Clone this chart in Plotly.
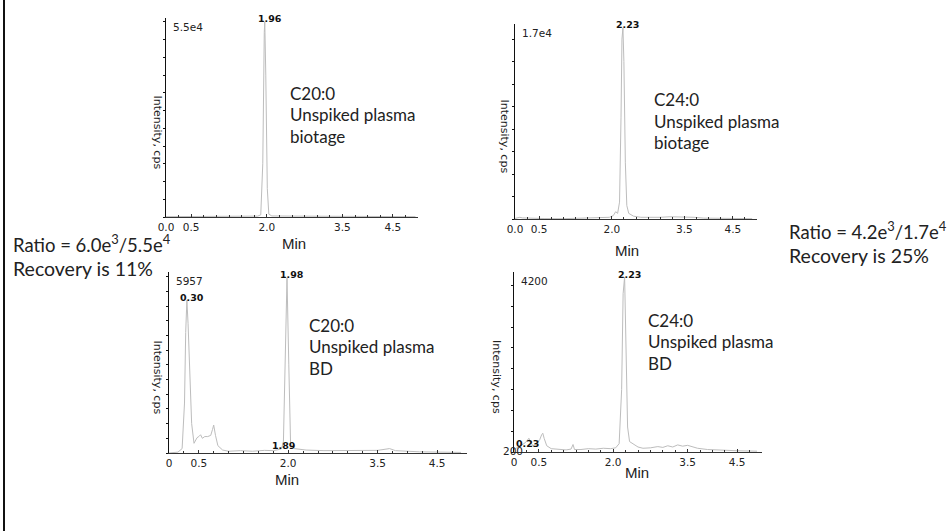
import plotly.graph_objects as go

W, H = 952, 531

# ---------------- data ----------------
# Panel A: C20:0 unspiked plasma, biotage (max 5.5e4)
t_a = [0.0, 0.3, 0.7, 1.2, 1.6, 1.82, 1.88, 1.92, 1.95, 1.96, 1.98, 2.01, 2.04, 2.1, 2.5, 3.0, 3.5, 4.0, 4.5, 4.95]
i_a = [100, 150, 120, 150, 200, 250, 600, 15000, 52000, 55000, 40000, 8000, 800, 300, 250, 200, 180, 150, 120, 100]

# Panel B: C24:0 unspiked plasma, biotage (max 1.7e4)
t_b = [0.0, 0.1, 0.15, 0.3, 0.6, 1.0, 1.5, 1.8, 1.95, 2.03, 2.08, 2.12, 2.16, 2.19, 2.21, 2.23, 2.25, 2.28, 2.31,
       2.35, 2.45, 2.6, 2.8, 3.0, 3.2, 3.4, 3.6, 3.7, 3.9, 4.2, 4.6, 4.9]
i_b = [50, 150, 100, 60, 40, 30, 60, 80, 150, 300, 650, 500, 1500, 9000, 16000, 17000, 14000, 5000, 1200,
       500, 250, 150, 120, 150, 200, 180, 220, 150, 80, 60, 40, 30]

# Panel C: C20:0 unspiked plasma, BD (max 5957)
t_c = [0.0, 0.15, 0.22, 0.26, 0.28, 0.30, 0.32, 0.35, 0.38, 0.42, 0.45, 0.47, 0.50, 0.53, 0.56, 0.60, 0.65,
       0.70, 0.73, 0.75, 0.78, 0.82, 0.9, 1.0, 1.2, 1.4, 1.6, 1.75, 1.85, 1.89, 1.92, 1.95, 1.98, 2.01, 2.04,
       2.1, 2.3, 2.6, 3.0, 3.3, 3.5, 3.7, 3.8, 4.2, 4.6, 4.9]
i_c = [0, 30, 150, 1700, 4100, 5200, 4400, 2300, 1000, 330, 450, 520, 560, 620, 500, 560, 560,
       600, 800, 950, 600, 250, 100, 60, 80, 60, 90, 80, 120, 150, 400, 3200, 5957, 3000, 300,
       150, 100, 80, 90, 100, 90, 150, 80, 40, 30, 20]

# Panel D: C24:0 unspiked plasma, BD (max 4200)
t_d = [0.0, 0.1, 0.2, 0.25, 0.3, 0.33, 0.38, 0.45, 0.52, 0.56, 0.58, 0.61, 0.66, 0.75, 0.9, 1.05, 1.15, 1.19,
       1.22, 1.35, 1.5, 1.65, 1.8, 1.95, 2.05, 2.12, 2.17, 2.20, 2.23, 2.26, 2.29, 2.33, 2.40, 2.5, 2.6, 2.75,
       2.9, 3.0, 3.1, 3.2, 3.3, 3.4, 3.5, 3.6, 3.7, 3.9, 4.2, 4.5, 4.9]
i_d = [60, 120, 200, 250, 330, 250, 150, 200, 300, 420, 450, 320, 150, 80, 60, 50, 70, 180,
       60, 60, 80, 70, 90, 80, 100, 200, 1500, 3800, 4200, 2500, 600, 250, 200, 120, 90, 100,
       130, 110, 150, 120, 170, 140, 160, 120, 90, 60, 40, 30, 20]

tick_vals = [0.0, 0.5, 2.0, 3.5, 4.5]
tick_text_top = ["0.0", "0.5", "2.0", "3.5", "4.5"]
tick_text_bot = ["0", "0.5", "2.0", "3.5", "4.5"]

panel_series = [(t_a, i_a), (t_b, i_b), (t_c, i_c), (t_d, i_d)]
panel_max_label = ["5.5e4", "1.7e4", "5957", "4200"]
panel_notes = [["C20:0", "Unspiked plasma", "biotage"],
               ["C24:0", "Unspiked plasma", "biotage"],
               ["C20:0", "Unspiked plasma", "BD"],
               ["C24:0", "Unspiked plasma", "BD"]]
peak_labels = [[(1.96, 55000, "1.96")],
               [(2.23, 17000, "2.23")],
               [(1.98, 5957, "1.98"), (0.30, 5200, "0.30")],
               [(2.23, 4200, "2.23")]]

# ---------------- layout helpers (pixel boxes) ----------------
boxes = [  # x0, x1, ytop, ybottom in pixels
    (166, 418, 18, 217),
    (515, 757, 24, 219),
    (169, 467, 272, 453),
    (514, 762, 272, 452),
]
y_tops = [56100, 17350, 6160, 4320]
ytitle_x = [157, 504, 157, 497]

def px(x):
    return x / W

def py(y):
    return 1 - y / H

fig = go.Figure()
anns = []
font_tick = dict(family="DejaVu Sans", size=10.5, color="#222")
font_note = dict(family="Lato", size=17, color="#222")
font_peak = dict(family="DejaVu Sans", size=9.5, color="#111")

for k, ((t, inten), (x0, x1, yt, yb)) in enumerate(zip(panel_series, boxes)):
    sfx = "" if k == 0 else str(k + 1)
    xa, ya = "x" + sfx, "y" + sfx
    fig.add_trace(go.Scatter(x=t, y=inten, mode="lines", xaxis=xa, yaxis=ya,
                             line=dict(color="#bdbdbd", width=1), hoverinfo="skip", showlegend=False))
    fig.layout["xaxis" + sfx] = dict(
        domain=[px(x0), px(x1)], range=[0, 5.0], anchor=ya, automargin=False,
        showgrid=False, zeroline=False, showline=True, linecolor="#333", linewidth=1,
        ticks="inside", ticklen=3, tickcolor="#333",
        tickvals=tick_vals, ticktext=(tick_text_top if k < 2 else tick_text_bot),
        tickfont=font_tick,
        minor=dict(ticks="inside", ticklen=2, dtick=0.25, tickcolor="#333", showgrid=False),
    )
    fig.layout["yaxis" + sfx] = dict(
        domain=[py(yb), py(yt)], range=[0, y_tops[k]], anchor=xa, automargin=False,
        showgrid=False, zeroline=False, showline=True, linecolor="#111", linewidth=1,
        ticks="outside", ticklen=2, tickcolor="#111", nticks=14, showticklabels=False,
    )
    # max intensity label at top-left inside
    anns.append(dict(x=px(x0 + 5), y=py(yt + 1), xref="paper", yref="paper", xanchor="left", yanchor="top",
                     text=panel_max_label[k], showarrow=False, font=font_tick))
    # peak labels
    for (pt, pv, lab) in peak_labels[k]:
        anns.append(dict(x=pt, y=pv, xref=xa, yref=ya, xanchor="center", yanchor="middle",
                         xshift=5, yshift=3, text="<b>" + lab + "</b>", showarrow=False, font=font_peak))
    # Y axis title
    ycen = (yt + yb) / 2
    anns.append(dict(x=px(ytitle_x[k]), y=py(ycen + 15), xref="paper", yref="paper", xanchor="center",
                     yanchor="middle", textangle=90, text="Intensity, cps", showarrow=False,
                     font=dict(family="DejaVu Sans", size=11, color="#222")))

# extra small labels
anns.append(dict(x=1.89, y=0, xref="x3", yref="y3", xanchor="center", yanchor="bottom", xshift=2,
                 text="<b>1.89</b>", showarrow=False, font=font_peak))
anns.append(dict(x=0.23, y=0, xref="x4", yref="y4", xanchor="center", yanchor="bottom", xshift=2, yshift=1,
                 text="<b>0.23</b>", showarrow=False, font=font_peak))
anns.append(dict(x=px(513), y=py(451), xref="paper", yref="paper", xanchor="center", yanchor="middle",
                 text="200", showarrow=False, font=font_tick))

# "Min" labels
for (mx, my) in [(294, 243), (627, 250), (287, 479), (637, 472)]:
    anns.append(dict(x=px(mx), y=py(my), xref="paper", yref="paper", xanchor="center", yanchor="middle",
                     text="Min", showarrow=False,
                     font=dict(family="Liberation Sans", size=15, color="#222")))

# panel notes
note_pos = [(288, 93), (652, 100), (307, 325), (646, 320)]
for (nx, ny), lines in zip(note_pos, panel_notes):
    for j, line in enumerate(lines):
        anns.append(dict(x=px(nx), y=py(ny + j * 21.5), xref="paper", yref="paper", xanchor="left",
                         yanchor="middle", text=line, showarrow=False, font=font_note))

# side texts
side = [(11, 243, "Ratio = 6.0e<sup>3</sup>/5.5e<sup>4</sup>", 18.5), (11, 268, "Recovery is 11%", 19.5),
        (787, 230, "Ratio = 4.2e<sup>3</sup>/1.7e<sup>4</sup>", 18.5), (787, 255, "Recovery is 25%", 19.5)]
for sx, sy, s, fs in side:
    anns.append(dict(x=px(sx), y=py(sy), xref="paper", yref="paper", xanchor="left", yanchor="middle",
                     text=s, showarrow=False, font=dict(family="Lato", size=fs, color="#222")))

fig.update_layout(
    width=W, height=H, margin=dict(l=0, r=0, t=0, b=0, pad=0, autoexpand=False),
    paper_bgcolor="white", plot_bgcolor="white",
    annotations=anns,
    shapes=[dict(type="line", xref="paper", yref="paper", x0=px(4), x1=px(4), y0=0, y1=1,
                 line=dict(color="#111", width=2))],
)

fig.write_html("out.html", config={"displayModeBar": False},
               post_script="document.body.style.margin='0px';")
